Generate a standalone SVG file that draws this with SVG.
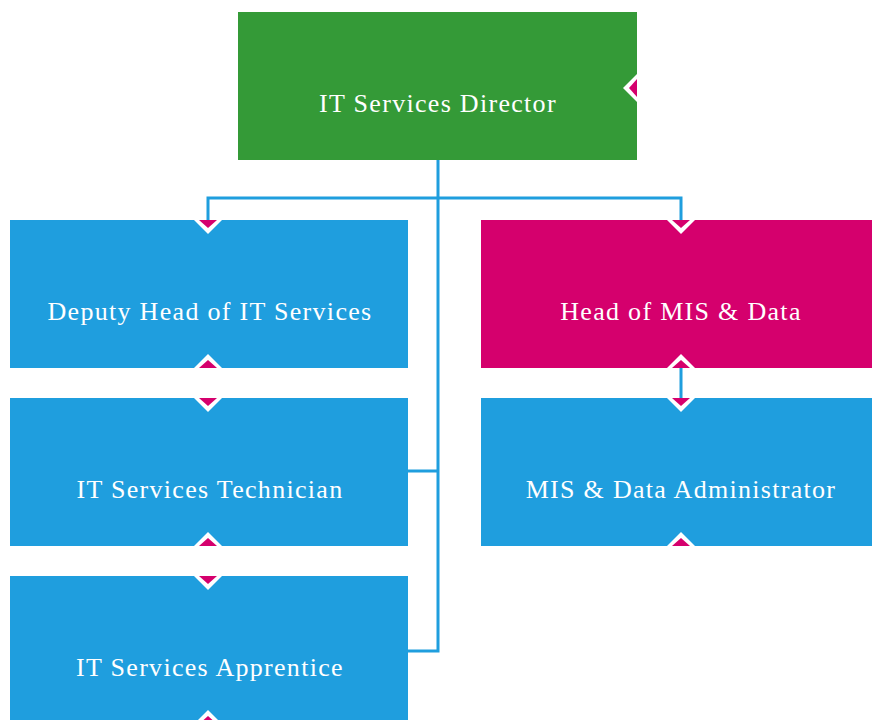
<svg xmlns="http://www.w3.org/2000/svg" width="872" height="720" viewBox="0 0 872 720">
<style>
.lbl{font-family:"Liberation Serif","DejaVu Serif",serif;font-size:26px;letter-spacing:1.3px;fill:#ffffff;text-anchor:middle;dominant-baseline:central}
.blue{fill:#1f9ede}
.conn{fill:none;stroke:#1f9ede;stroke-width:3}
</style>
<defs>
<g id="tri"><polygon points="-14,0 14,0 0,14" fill="#ffffff"/><polygon points="-9,0 9,0 0,8" fill="#d5006d"/></g>
</defs>
<rect width="872" height="720" fill="#ffffff"/>
<g id="connectors">
<path class="conn" d="M438,160 V651 H408 M438,471 H408 M208,220 V198 H681 V220 M681,368 V398"/>
</g>
<g id="director"><rect x="238" y="12" width="399" height="148" fill="#349a37"/><text class="lbl" x="438" y="103">IT Services Director</text></g>
<g id="deputy"><rect class="blue" x="10" y="220" width="398" height="148"/><text class="lbl" x="210" y="311">Deputy Head of IT Services</text></g>
<g id="technician"><rect class="blue" x="10" y="398" width="398" height="148"/><text class="lbl" x="210" y="489">IT Services Technician</text></g>
<g id="apprentice"><rect class="blue" x="10" y="576" width="398" height="148"/><text class="lbl" x="210" y="667">IT Services Apprentice</text></g>
<g id="headmis"><rect x="481" y="220" width="398" height="148" fill="#d5006d"/><text class="lbl" x="681" y="311">Head of MIS &amp; Data</text></g>
<g id="misadmin"><rect class="blue" x="481" y="398" width="398" height="148"/><text class="lbl" x="681" y="489">MIS &amp; Data Administrator</text></g>
<g id="markers">
<use href="#tri" transform="translate(208,220)"/>
<use href="#tri" transform="translate(208,368) rotate(180)"/>
<use href="#tri" transform="translate(208,398)"/>
<use href="#tri" transform="translate(208,546) rotate(180)"/>
<use href="#tri" transform="translate(208,576)"/>
<use href="#tri" transform="translate(208,724) rotate(180)"/>
<use href="#tri" transform="translate(681,220)"/>
<use href="#tri" transform="translate(681,368) rotate(180)"/>
<use href="#tri" transform="translate(681,398)"/>
<use href="#tri" transform="translate(681,546) rotate(180)"/>
<use href="#tri" transform="translate(637,88) rotate(90)"/>
</g>
</svg>
